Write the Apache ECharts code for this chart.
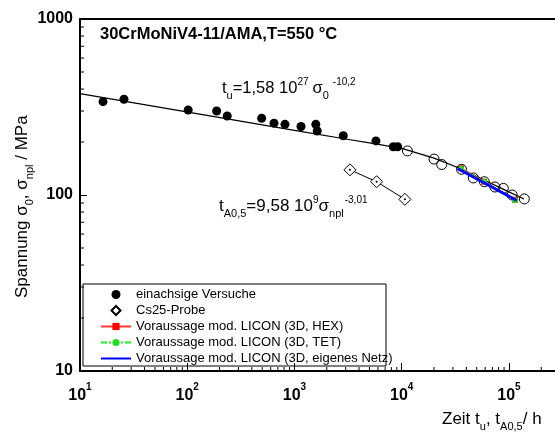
<!DOCTYPE html>
<html>
<head>
<meta charset="utf-8">
<script src="https://cdn.jsdelivr.net/npm/echarts@6/dist/echarts.min.js"></script>
<style>
html,body{margin:0;padding:0;background:#fff;}
#c{width:555px;height:437px;}
</style>
</head>
<body>
<div id="c"></div>
<script>
// ---- data ----
const einachsigT = [16.4, 25.7, 102, 188, 236, 494, 644, 815, 1150, 1580, 1630, 2850, 5750, 8340, 9160];
const einachsigS = [339, 350, 304, 300, 281, 273, 256, 252, 245, 252, 231, 217, 203, 188, 188];

const openT = [11300, 20000, 23600, 36100, 46500, 58900, 74000, 88500, 107000, 139000];
const openS = [178, 160, 149, 140, 125, 119, 111, 109, 100, 95];

const cs25T = [3290, 5830, 10700];
const cs25S = [139, 119, 94.5];

const curveT = [10, 1000, 3000, 5000, 10000, 20000, 35600, 58500, 88000, 138000];
const curveS = [377, 233, 208, 198, 184, 162, 141, 121.6, 108, 94.8];

const hexT = [35700, 58500, 114000];
const hexS = [142, 119, 94];
const tetT = [35700, 58500, 114000];
const tetS = [141.5, 119.5, 93.5];
const eigT = [33200, 118000];
const eigS = [141.5, 93];

const xMinorTicks = [20,30,40,50,60,70,80,90,200,300,400,500,600,700,800,900,
  2000,3000,4000,5000,6000,7000,8000,9000,20000,30000,40000,50000,60000,70000,80000,90000,200000];
const yMinorTicks = [20,30,40,50,60,70,80,90,200,300,400,500,600,700,800,900];

const legendNames = ['einachsige Versuche', 'Cs25-Probe', 'Voraussage mod. LICON (3D, HEX)',
  'Voraussage mod. LICON (3D, TET)', 'Voraussage mod. LICON (3D, eigenes Netz)'];

const zip = (a, b) => a.map((v, i) => [v, b[i]]);

const FONT = '"Liberation Sans", Arial, Helvetica, sans-serif';
const mctx = document.createElement('canvas').getContext('2d');
function tw(t, size, weight) {
  mctx.font = (weight || 'normal') + ' ' + size + 'px ' + FONT;
  return mctx.measureText(t).width;
}
// composite text with sub/superscripts; returns children placed along local x
function compText(parts, x, y, rotation, N) {
  N = N || 17;
  const SUB = 11, SUP = 10;
  let cx = 0;
  const children = [];
  parts.forEach(p => {
    const [t, kind, gap] = p;
    if (gap) cx += gap;
    const size = kind === 'n' ? N : (kind === 'sub' ? SUB : SUP);
    const dy = kind === 'n' ? 0 : (kind === 'sub' ? 8 : -6);
    children.push({ type: 'text', x: cx, y: dy,
      style: { text: t, fontSize: size, fontFamily: FONT, fill: '#000',
        align: 'left', verticalAlign: 'middle' } });
    cx += tw(t, size);
  });
  return { type: 'group', x: x, y: y, rotation: rotation || 0, children: children };
}

const chart = echarts.init(document.getElementById('c'), null, { renderer: 'canvas' });

const X_MIN = 10, X_MAX = Math.pow(10, 5.429);

function tickSeries(vals, isX) {
  return {
    type: 'custom', silent: true, z: 5, clip: false,
    data: vals.map(v => isX ? [v, 10] : [10, v]),
    renderItem: function (params, api) {
      const p = api.coord([api.value(0), api.value(1)]);
      const shape = isX ? { x1: p[0], y1: p[1], x2: p[0], y2: p[1] - 4 }
                        : { x1: p[0], y1: p[1], x2: p[0] + 4, y2: p[1] };
      return { type: 'line', shape: shape, style: { stroke: '#000', lineWidth: 1 } };
    }
  };
}

const option = {
  animation: false,
  backgroundColor: '#fff',
  grid: { left: 80, top: 19, right: 0, bottom: 66, containLabel: false },
  xAxis: [{
    type: 'log', logBase: 10, min: X_MIN, max: X_MAX,
    axisLine: { show: true, lineStyle: { color: '#000', width: 2 } },
    axisTick: { show: true, inside: true, length: 8, lineStyle: { color: '#000', width: 1 } },
    splitLine: { show: false },
    axisLabel: {
      margin: 11, showMaxLabel: false,
      formatter: function (v) {
        const l = Math.log10(v), e = Math.round(l);
        if (Math.abs(l - e) > 1e-6) return '';
        return '{b|10}{s|' + e + '}';
      },
      rich: {
        b: { fontSize: 16, fontWeight: 'bold', fontFamily: FONT, color: '#000', lineHeight: 22, verticalAlign: 'bottom' },
        s: { fontSize: 10, fontWeight: 'bold', fontFamily: FONT, color: '#000', lineHeight: 22, verticalAlign: 'top' }
      }
    }
  }, {
    type: 'log', logBase: 10, min: X_MIN, max: X_MAX, position: 'top',
    axisLine: { show: true, lineStyle: { color: '#000', width: 2 } },
    axisTick: { show: false }, axisLabel: { show: false }, splitLine: { show: false }
  }],
  yAxis: [{
    type: 'log', logBase: 10, min: 10, max: 1000,
    axisLine: { show: true, lineStyle: { color: '#000', width: 2 } },
    axisTick: { show: true, inside: true, length: 7, lineStyle: { color: '#000', width: 1 } },
    splitLine: { show: false },
    axisLabel: { margin: 7, fontSize: 16, fontWeight: 'bold', fontFamily: FONT, color: '#000',
      formatter: v => String(Math.round(v)) }
  }],
  legend: {
    orient: 'vertical', left: 100, top: 288, padding: 0,
    itemWidth: 30, itemHeight: 9, itemGap: 3, symbolKeepAspect: true,
    textStyle: { fontSize: 13, lineHeight: 13, fontFamily: FONT, color: '#000' },
    data: [
      { name: legendNames[0] },
      { name: legendNames[1], icon: 'path://M5,0L10,5L5,10L0,5Z' },
      { name: legendNames[2] },
      { name: legendNames[3] },
      { name: legendNames[4], itemStyle: { opacity: 0 } }
    ]
  },
  series: [
    { type: 'line', data: zip(curveT, curveS), showSymbol: false, symbol: 'none',
      lineStyle: { color: '#000', width: 1.2 }, z: 2 },
    { type: 'line', data: zip(cs25T, cs25S), symbol: 'none',
      lineStyle: { color: '#000', width: 1 }, z: 2 },
    { type: 'scatter', name: 'open', data: zip(openT, openS), symbol: 'circle', symbolSize: 10,
      itemStyle: { color: 'rgba(255,255,255,0)', borderColor: '#000', borderWidth: 1, opacity: 1 }, z: 4 },
    { type: 'scatter', name: legendNames[1], data: zip(cs25T, cs25S), symbol: 'diamond', symbolSize: 12,
      itemStyle: { color: '#fff', borderColor: '#000', borderWidth: 1, opacity: 1 }, z: 4 },
    { type: 'scatter', data: zip(cs25T, cs25S), symbol: 'circle', symbolSize: 2,
      itemStyle: { color: '#000', opacity: 1 }, z: 5 },
    { type: 'scatter', name: legendNames[0], data: zip(einachsigT, einachsigS), symbol: 'circle', symbolSize: 9,
      itemStyle: { color: '#000', opacity: 1 }, z: 4 },
    { type: 'line', name: legendNames[2], data: zip(hexT, hexS), symbol: 'rect', symbolSize: 6,
      lineStyle: { color: '#ff3b3b', width: 1.5 }, itemStyle: { color: '#ff0000' }, z: 6 },
    { type: 'line', name: legendNames[3], data: zip(tetT, tetS), symbol: 'circle', symbolSize: 6,
      lineStyle: { color: '#22ee22', width: 1.2, type: [6, 2, 2, 2] }, itemStyle: { color: '#22dd22' }, z: 7 },
    { type: 'line', name: legendNames[4], data: zip(eigT, eigS), symbol: 'none',
      lineStyle: { color: '#0000ff', width: 3 }, itemStyle: { color: '#0000ff' }, z: 8 },
    tickSeries(xMinorTicks, true),
    tickSeries(yMinorTicks, false)
  ],
  graphic: [
    { type: 'rect', shape: { x: 83, y: 284, width: 303, height: 82 },
      style: { fill: null, stroke: '#000', lineWidth: 1 }, z: 10 },
    { type: 'text', x: 100, y: 34,
      style: { text: '30CrMoNiV4-11/AMA,T=550 °C', fontSize: 16.5, fontWeight: 'bold', fontFamily: FONT,
        fill: '#000', verticalAlign: 'middle' } },
    compText([['t', 'n'], ['u', 'sub'], ['=1,58 10', 'n'], ['27', 'sup'], ['σ', 'n', 4], ['0', 'sub'], ['-10,2', 'sup', 4]], 222, 88, 0, 16.5),
    compText([['t', 'n'], ['A0,5', 'sub'], ['=9,58 10', 'n'], ['9', 'sup'], ['σ', 'n'], ['npl', 'sub'], ['-3,01', 'sup', 1]], 219, 206),
    compText([['Zeit t', 'n'], ['u', 'sub'], [', t', 'n'], ['A0,5', 'sub'], ['/ h', 'n']], 442, 419),
    compText([['Spannung σ', 'n'], ['0', 'sub'], [', σ', 'n'], ['npl', 'sub'], [' / MPa', 'n']], 22, 298, Math.PI / 2)
  ]
};
chart.setOption(option);
</script>
</body>
</html>
